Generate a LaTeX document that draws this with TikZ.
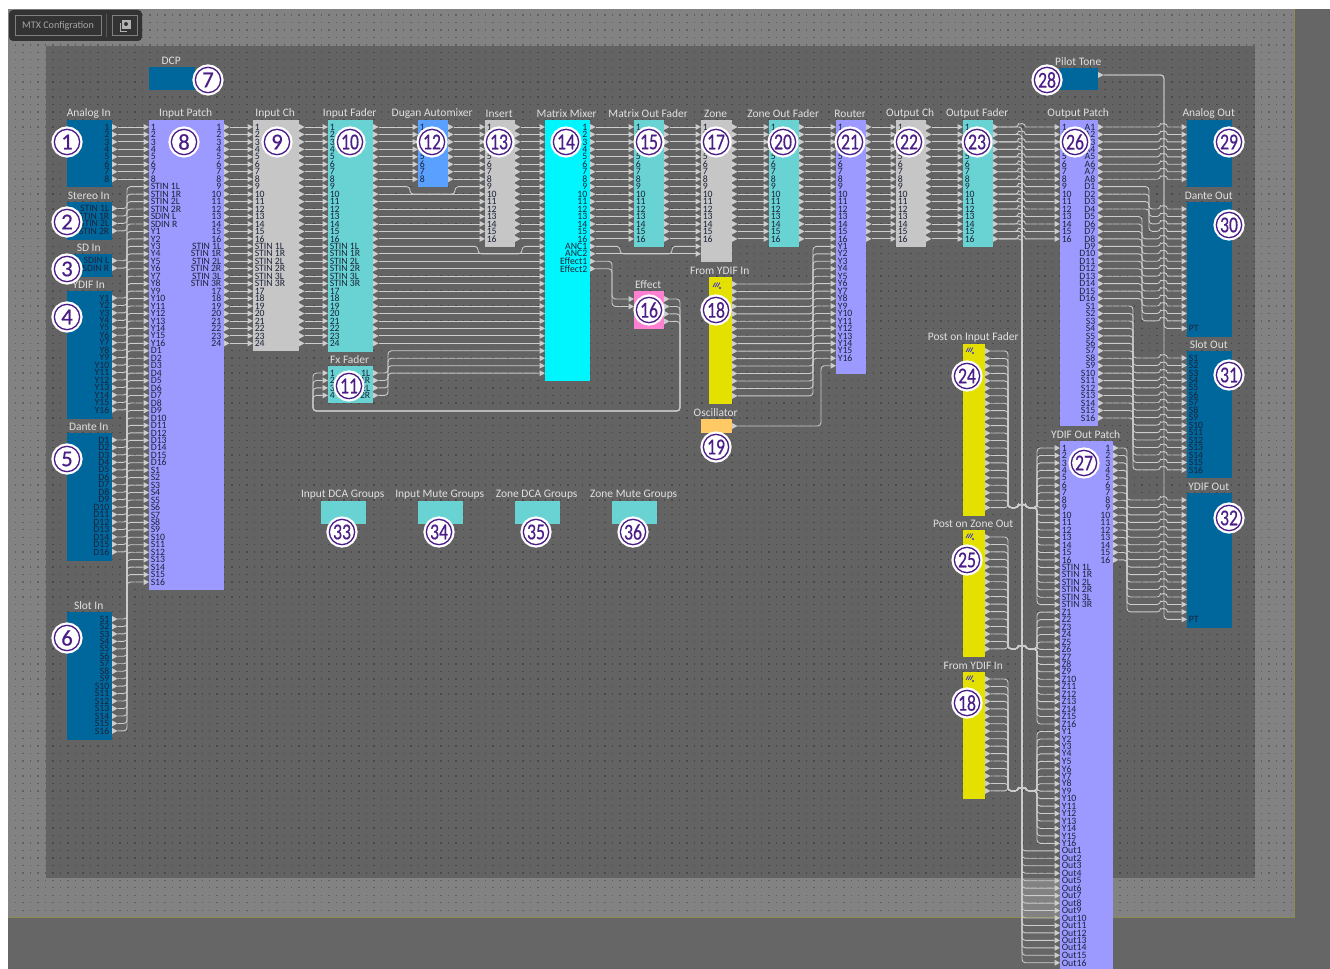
\documentclass[tikz,border=0pt]{standalone}
\usepackage{fontspec}
\setmainfont{Carlito}
\newfontfamily\badgefont[FakeBold=0.5]{Carlito}
\usetikzlibrary{calc}

\definecolor{bandgray}{HTML}{828282}
\definecolor{innergray}{HTML}{636363}
\definecolor{stripgray}{HTML}{666666}
\definecolor{iogreen}{HTML}{00679C}
\definecolor{patchpurple}{HTML}{9C9AFF}
\definecolor{fadergreen}{HTML}{69D3D3}
\definecolor{procgray}{HTML}{C6C6C6}
\definecolor{mixcyan}{HTML}{00F6FF}
\definecolor{duganblue}{HTML}{5AA0FF}
\definecolor{fxpink}{HTML}{FF80D2}
\definecolor{ylwblock}{HTML}{E4E000}
\definecolor{oscorange}{HTML}{FFC966}
\definecolor{ringpurple}{HTML}{4B1D87}
\definecolor{wiregray}{HTML}{CDCDCD}
\definecolor{rowink}{HTML}{1C2238}
\definecolor{iconblue}{HTML}{3A35D8}

\tikzset{
  wire/.style={draw=wiregray,line width=0.65pt,rounded corners=2.5pt},
  port/.style={fill=wiregray},
  griddot/.style={draw=black,opacity=0.26,line width=1pt,dash pattern=on 1.1pt off 4.495pt},
  blockbox/.style={inner sep=0pt,outer sep=0pt,anchor=north west},
  title/.style={text=white!88!black,font=\fontsize{8.6}{9}\selectfont,inner sep=0pt},
  rowlab/.style={text=rowink,font=\fontsize{7.3}{8}\selectfont,inner sep=0pt},
  badge/.style={circle,fill=white,draw=ringpurple,line width=1pt,minimum size=19pt,inner sep=0pt,
    text=ringpurple,font=\badgefont\fontsize{17}{17}\selectfont,preaction={draw=white,line width=4.4pt}},
}

% block: name, x1, y1, x2, y2, colour, title
\newcommand{\block}[7]{%
  \pgfmathsetmacro\bw{(#4-#2)*0.75}\pgfmathsetmacro\bh{(#5-#3)*0.75}%
  \node[blockbox,fill=#6,minimum width=\bw pt,minimum height=\bh pt] (#1) at (#2,#3) {};
  \node[title] (#1-t) at ({(#2+#4)/2-0.8},#3-6.2) {#7};
}
% ports: name, edge x, first y, count
\newcommand{\inports}[4]{%
  \foreach \i in {1,...,#4}{%
    \pgfmathsetmacro\yy{#3+7.46*(\i-1)}
    \coordinate (#1-in\i) at (#2-5.5,\yy);
    \fill[port] (#2-5.5,\yy-3) -- (#2,\yy) -- (#2-5.5,\yy+3) -- cycle;
  }
}
\newcommand{\outports}[4]{%
  \foreach \i in {1,...,#4}{%
    \pgfmathsetmacro\yy{#3+7.46*(\i-1)}
    \coordinate (#1-out\i) at (#2+5.5,\yy);
    \fill[port] (#2,\yy-3) -- (#2+5.5,\yy) -- (#2,\yy+3) -- cycle;
  }
}
% row texts: name, x, first y, list
\newcommand{\leftlabels}[4]{%
  \edef\rowlist{#4}
  \foreach \lab [count=\i] in \rowlist {%
    \pgfmathsetmacro\yy{#3+7.46*(\i-1)}
    \node[rowlab,anchor=west] (#1-ll\i) at (#2+1.5,\yy) {\lab};
  }
}
\newcommand{\rightlabels}[4]{%
  \edef\rowlist{#4}
  \foreach \lab [count=\i] in \rowlist {%
    \pgfmathsetmacro\yy{#3+7.46*(\i-1)}
    \node[rowlab,anchor=east] (#1-rl\i) at (#2-2.5,\yy) {\lab};
  }
}
% wires: via one vertical bus; with a hop over another bus
\newcommand{\buswire}[3]{\draw[wire] (#1) -- (#1 -| #3) -- (#2 -| #3) -- (#2);}
\newcommand{\hopwire}[3]{\draw[wire] (#1) -- ($(#1 -| #3)+(-3.5,0)$) [sharp corners] arc[start angle=180,end angle=0,radius=2.6pt] -- (#2);}
\newcommand{\bushop}[4]{\draw[wire] (#1) -- (#1 -| #3) -- (#2 -| #3) -- ($(#2 -| #4)+(-3.5,0)$) [sharp corners] arc[start angle=180,end angle=0,radius=2.6pt] -- (#2);}
\newcommand{\jogwire}[5]{\draw[wire] (#1) -- (#1 -| #4) -- (#3 -| #4) -- (#3 -| #5) -- (#2 -| #5) -- (#2);}
% merged bundle into the YDIF Out Patch
\newcommand{\mergewire}[3]{\draw[wire] (#1) -- (#1 -| busF) -- (#3 -| busF) -- ($(#3 -| busH)+(-3.5,0)$) arc[start angle=180,end angle=0,radius=2.6pt] -- (#3 -| busG) -- (#2 -| busG) -- (#2);}
\newcommand{\badgeno}[3]{\node[badge] (no#1) at (#2) {#3};}
\newcommand{\tight}[1]{\scalebox{0.78}[1]{#1}}
\newcommand{\ydificon}[2]{%
  \foreach \d in {0,2.2,4.4}{
    \draw[line width=0.6pt,draw=iconblue] (#1+\d,#2+1) -- (#1+2.4+\d,#2-3.4);
  }
  \fill[iconblue] (#1+7,#2+2) circle (0.9pt);
}

\def\numA{1,2,3,4,5,6,7,8}
\def\numB{\numA,9,10,11,12,13,14,15,16}
\def\numC{\numB,STIN 1L,STIN 1R,STIN 2L,STIN 2R,STIN 3L,STIN 3R,17,18,19,20,21,22,23,24}
\def\listY{Y1,Y2,Y3,Y4,Y5,Y6,Y7,Y8,Y9,Y10,Y11,Y12,Y13,Y14,Y15,Y16}
\def\listD{D1,D2,D3,D4,D5,D6,D7,D8,D9,D10,D11,D12,D13,D14,D15,D16}
\def\listS{S1,S2,S3,S4,S5,S6,S7,S8,S9,S10,S11,S12,S13,S14,S15,S16}
\def\listZ{Z1,Z2,Z3,Z4,Z5,Z6,Z7,Z8,Z9,Z10,Z11,Z12,Z13,Z14,Z15,Z16}
\def\listO{Out1,Out2,Out3,Out4,Out5,Out6,Out7,Out8,Out9,Out10,Out11,Out12,Out13,Out14,Out15,Out16}
\def\listST{STIN 1L,STIN 1R,STIN 2L,STIN 2R}

\begin{document}
\begin{tikzpicture}[x=0.75pt,y=-0.75pt]
\useasboundingbox (0,0) rectangle (1330,969);

%------------------------------------------------
% Background
%------------------------------------------------
\fill[white] (0,0) rectangle (1330,969);
\fill[stripgray] (8,9) rectangle (1330,969);
\fill[bandgray] (8,9) rectangle (1294,917);
\fill[innergray] (46,46) rectangle (1255,878);
\draw[draw=olive!45!gray,line width=0.75pt] (8,917) -- (1294,917) -- (1294,9);
\foreach \k in {0,...,120}
  \draw[griddot] (15,{15+7.46*\k}) -- (1292,{15+7.46*\k});

% Toolbar
\fill[black!80,rounded corners=3pt] (9,10) rectangle (142,41);
\node[draw=gray,line width=0.6pt,text=gray!70!white,font=\fontsize{7.6}{8}\selectfont,
  inner sep=0pt,minimum width=64.5pt,minimum height=15.5pt] (mtxbtn) at (58,25.5) {MTX Configration};
\draw[gray!70!black,line width=0.5pt] (106,14) -- (106,37);
\node[draw=gray,line width=0.6pt,inner sep=0pt,minimum width=18.8pt,minimum height=15.5pt] (iconbtn) at (124.5,25.5) {};
\draw[gray!60!white,line width=0.7pt] (120,23) -- (120,31) -- (127,31);
\draw[gray!60!white,line width=0.7pt,fill=gray!60!white] (122,20) rectangle (130,28);
\fill[black!80] (126,24) circle (1.5pt);

%------------------------------------------------
% Blocks
%------------------------------------------------
\block{anin}{67}{120}{112}{187}{iogreen}{Analog In}
\block{stin}{67}{202}{112}{240}{iogreen}{Stereo In}
\block{sdin}{67}{254}{112}{277}{iogreen}{SD In}
\block{ydin}{67}{291}{112}{419}{iogreen}{YDIF In}
\block{dain}{67}{433}{112}{561}{iogreen}{Dante In}
\block{slin}{67}{612}{112}{740}{iogreen}{Slot In}
\block{dcp}{149}{67}{195}{90}{iogreen}{DCP}
\block{ipatch}{149}{120}{224}{590}{patchpurple}{Input Patch}
\block{inch}{253}{120}{299}{351}{procgray}{Input Ch}
\block{infad}{328}{120}{373}{352}{fadergreen}{Input Fader}
\block{fxfad}{328}{366}{373}{403}{fadergreen}{Fx Fader}
\block{dugan}{418}{120}{448}{187}{duganblue}{Dugan Automixer}
\block{insert}{485}{120}{515}{247}{procgray}{Insert}
\block{mixer}{545}{120}{590}{381}{mixcyan}{Matrix Mixer}
\block{mofad}{634}{120}{664}{247}{fadergreen}{Matrix Out Fader}
\block{effect}{634}{291}{664}{329}{fxpink}{Effect}
\block{zone}{701}{120}{732}{262}{procgray}{Zone}
\block{yfrom}{709}{277}{732}{404}{ylwblock}{From YDIF In}
\block{osc}{701}{419}{732}{433}{oscorange}{Oscillator}
\block{zofad}{769}{120}{799}{247}{fadergreen}{Zone Out Fader}
\block{router}{836}{120}{866}{374}{patchpurple}{Router}
\block{outch}{896}{120}{926}{247}{procgray}{Output Ch}
\block{oufad}{963}{120}{993}{247}{fadergreen}{Output Fader}
\block{pfad}{963}{344}{985}{516}{ylwblock}{Post on Input Fader}
\block{pzone}{963}{530}{985}{657}{ylwblock}{Post on Zone Out}
\block{yfromb}{963}{672}{985}{799}{ylwblock}{From YDIF In}
\block{ptone}{1060}{68}{1098}{90}{iogreen}{Pilot Tone}
\block{opatch}{1060}{120}{1098}{426}{patchpurple}{Output Patch}
\block{ypatch}{1060}{441}{1113}{969}{patchpurple}{YDIF Out Patch}
\block{anout}{1187}{120}{1232}{187}{iogreen}{Analog Out}
\block{daout}{1187}{202}{1232}{337}{iogreen}{Dante Out}
\block{slout}{1187}{351}{1232}{478}{iogreen}{Slot Out}
\block{ydout}{1187}{493}{1232}{628}{iogreen}{YDIF Out}
\block{dcagrp}{321}{501}{366}{524}{fadergreen}{Input DCA Groups}
\block{mutegrp}{418}{501}{463}{524}{fadergreen}{Input Mute Groups}
\block{zdcagrp}{515}{501}{560}{524}{fadergreen}{Zone DCA Groups}
\block{zmutegrp}{612}{501}{657}{524}{fadergreen}{Zone Mute Groups}

\ydificon{713}{286}
\ydificon{966}{351}
\ydificon{966}{537}
\ydificon{966}{679}

%------------------------------------------------
% Ports
%------------------------------------------------
\outports{anin}{112}{127}{8}
\outports{stin}{112}{208.5}{4}
\outports{sdin}{112}{260.7}{2}
\outports{ydin}{112}{298}{16}
\outports{dain}{112}{440}{16}
\outports{slin}{112}{619}{16}
\inports{ipatch}{149}{127}{62}
\outports{ipatch}{224}{127}{30}
\inports{inch}{253}{127}{30}
\outports{inch}{299}{127}{30}
\inports{infad}{328}{127}{30}
\outports{infad}{373}{127}{30}
\inports{fxfad}{328}{373}{4}
\outports{fxfad}{373}{373}{4}
\inports{dugan}{418}{127}{8}
\outports{dugan}{448}{127}{8}
\inports{insert}{485}{127}{16}
\outports{insert}{515}{127}{16}
\inports{mixer}{545}{127}{34}
\outports{mixer}{590}{127}{20}
\inports{mofad}{634}{127}{16}
\outports{mofad}{664}{127}{16}
\inports{effect}{634}{299}{2}
\outports{effect}{664}{299}{4}
\inports{zone}{701}{127}{18}
\outports{zone}{732}{127}{16}
\outports{yfrom}{732}{284}{16}
\outports{osc}{732}{426}{1}
\inports{zofad}{769}{127}{16}
\outports{zofad}{799}{127}{16}
\inports{router}{836}{127}{33}
\outports{router}{866}{127}{16}
\inports{outch}{896}{127}{16}
\outports{outch}{926}{127}{16}
\inports{oufad}{963}{127}{16}
\outports{oufad}{993}{127}{16}
\outports{pfad}{985}{351}{22}
\outports{pzone}{985}{537}{16}
\outports{yfromb}{985}{679}{16}
\outports{ptone}{1098}{75}{1}
\inports{opatch}{1060}{127}{16}
\outports{opatch}{1098}{127}{40}
\inports{ypatch}{1060}{448}{70}
\outports{ypatch}{1113}{448}{16}
\inports{anout}{1187}{127}{8}
\inports{daout}{1187}{209}{17}
\inports{slout}{1187}{358}{16}
\inports{ydout}{1187}{500}{17}

%------------------------------------------------
% Row texts
%------------------------------------------------
\rightlabels{anin}{112}{127}{\numA}
\rightlabels{stin}{112}{208.5}{\listST}
\rightlabels{sdin}{112}{260.7}{SDIN L,SDIN R}
\rightlabels{ydin}{112}{298}{\listY}
\rightlabels{dain}{112}{440}{\listD}
\rightlabels{slin}{112}{619}{\listS}
\leftlabels{ipatch}{149}{127}{\numA,\listST,SDIN L,SDIN R,\listY,\listD,\listS}
\rightlabels{ipatch}{224}{127}{\numC}
\leftlabels{inch}{253}{127}{\numC}
\leftlabels{infad}{328}{127}{\numC}
\leftlabels{fxfad}{328}{373}{1,2,3,4}
\rightlabels{fxfad}{373}{373}{1L,1R,2L,2R}
\leftlabels{dugan}{418}{127}{\numA}
\leftlabels{insert}{485}{127}{\numB}
\rightlabels{mixer}{590}{127}{\numB,ANC1,ANC2,Effect1,Effect2}
\leftlabels{mofad}{634}{127}{\numB}
\leftlabels{zone}{701}{127}{\numB}
\leftlabels{zofad}{769}{127}{\numB}
\leftlabels{router}{836}{127}{\numB,\listY}
\leftlabels{outch}{896}{127}{\numB}
\leftlabels{oufad}{963}{127}{\numB}
\leftlabels{opatch}{1060}{127}{\numB}
\rightlabels{opatch}{1098}{127}{A1,A2,A3,A4,A5,A6,A7,A8,\listD,\listS}
\leftlabels{ypatch}{1060}{448}{\numB,STIN 1L,STIN 1R,STIN 2L,STIN 2R,STIN 3L,STIN 3R,\listZ,\listY,\listO}
\rightlabels{ypatch}{1113}{448}{\numB}
\leftlabels{slout}{1187}{358}{\listS}
\node[rowlab,anchor=west] (daout-pt) at (1188.5,328.4) {PT};
\node[rowlab,anchor=west] (ydout-pt) at (1188.5,619.4) {PT};

%------------------------------------------------
% Bus positions
%------------------------------------------------
\coordinate (busIn) at (127,0);
\coordinate (jogAl) at (410,0);
\coordinate (jogAr) at (455,0);
\coordinate (jogBl) at (478,0);
\coordinate (jogBr) at (522,0);
\coordinate (jogCl) at (620,0);
\coordinate (jogCr) at (672,0);
\coordinate (busFx) at (388,0);
\coordinate (busEff) at (612,0);
\coordinate (fxR) at (680,411);
\coordinate (fxL) at (313,411);
\coordinate (busYf) at (813,0);
\coordinate (busOsc) at (821,0);
\coordinate (busF) at (1008,0);
\coordinate (busH) at (1022,0);
\coordinate (busG) at (1037,0);
\coordinate (busY) at (1127,0);
\coordinate (busS) at (1133,0);
\coordinate (busDb) at (1142,0);
\coordinate (busDa) at (1149,0);
\coordinate (busP) at (1164,0);

%------------------------------------------------
% Input side
%------------------------------------------------
\foreach \i in {1,...,8}{
  \draw[wire] (anin-out\i) -- (ipatch-in\i);
}
\foreach \i [evaluate=\i as \j using int(\i+8)] in {1,...,4}{
  \buswire{stin-out\i}{ipatch-in\j}{busIn}
}
\foreach \i [evaluate=\i as \j using int(\i+12)] in {1,2}{
  \buswire{sdin-out\i}{ipatch-in\j}{busIn}
}
\foreach \i [evaluate=\i as \j using int(\i+14),
             evaluate=\i as \k using int(\i+30),
             evaluate=\i as \m using int(\i+46)] in {1,...,16}{
  \buswire{ydin-out\i}{ipatch-in\j}{busIn}
  \buswire{dain-out\i}{ipatch-in\k}{busIn}
  \buswire{slin-out\i}{ipatch-in\m}{busIn}
}
\foreach \i in {1,...,30}{
  \draw[wire] (ipatch-out\i) -- (inch-in\i);
  \draw[wire] (inch-out\i) -- (infad-in\i);
}
\foreach \i in {1,...,8}{
  \draw[wire] (infad-out\i) -- (dugan-in\i);
  \draw[wire] (dugan-out\i) -- (insert-in\i);
}
\jogwire{infad-out9}{insert-in9}{infad-out10}{jogAl}{jogAr}
\foreach \i in {10,...,16}{
  \draw[wire] (infad-out\i) -- (insert-in\i);
}
\foreach \i in {1,...,16}{
  \draw[wire] (insert-out\i) -- (mixer-in\i);
}
\jogwire{infad-out17}{mixer-in17}{infad-out18}{jogBl}{jogBr}
\foreach \i in {18,...,30}{
  \draw[wire] (infad-out\i) -- (mixer-in\i);
}

% Fx return
\foreach \i [evaluate=\i as \j using int(\i+30)] in {1,...,4}{
  \buswire{fxfad-out\i}{mixer-in\j}{busFx}
}
\foreach \i in {1,...,4}{
  \draw[wire] (effect-out\i) -- (effect-out\i -| fxR) -- (fxR) -- (fxL) -- (fxfad-in\i -| fxL) -- (fxfad-in\i);
}
\foreach \i [evaluate=\i as \j using int(\i+18)] in {1,2}{
  \buswire{mixer-out\j}{effect-in\i}{busEff}
}

%------------------------------------------------
% Mixer to output patch
%------------------------------------------------
\foreach \i in {1,...,16}{
  \draw[wire] (mixer-out\i) -- (mofad-in\i);
  \draw[wire] (mofad-out\i) -- (zone-in\i);
  \draw[wire] (zone-out\i) -- (zofad-in\i);
  \draw[wire] (zofad-out\i) -- (router-in\i);
  \draw[wire] (router-out\i) -- (outch-in\i);
  \draw[wire] (outch-out\i) -- (oufad-in\i);
}
\jogwire{mixer-out17}{zone-in17}{mixer-out18}{jogCl}{jogCr}
\draw[wire] (mixer-out18) -- (zone-in18);
\foreach \i [evaluate=\i as \j using int(\i+16)] in {1,...,16}{
  \buswire{yfrom-out\i}{router-in\j}{busYf}
}
\buswire{osc-out1}{router-in33}{busOsc}

%------------------------------------------------
% YDIF Out Patch inputs
%------------------------------------------------
\foreach \i [evaluate=\i as \j using int(\i+54)] in {1,...,16}{
  \buswire{oufad-out\i}{ypatch-in\j}{busH}
}
\foreach \i in {1,...,16}{
  \hopwire{oufad-out\i}{opatch-in\i}{busH}
}
\foreach \i in {1,...,22}{
  \mergewire{pfad-out\i}{ypatch-in\i}{pfad-out22}
}
\foreach \i [evaluate=\i as \j using int(\i+22),
             evaluate=\i as \k using int(\i+38)] in {1,...,16}{
  \mergewire{pzone-out\i}{ypatch-in\j}{pzone-out16}
  \mergewire{yfromb-out\i}{ypatch-in\k}{yfromb-out16}
}

%------------------------------------------------
% Outputs
%------------------------------------------------
\buswire{ptone-out1}{daout-in17}{busP}
\buswire{ptone-out1}{ydout-in17}{busP}
\foreach \i in {1,...,8}{
  \hopwire{opatch-out\i}{anout-in\i}{busP}
}
\foreach \i [evaluate=\i as \j using int(\i+8)] in {1,...,4}{
  \bushop{opatch-out\j}{daout-in\i}{busDa}{busP}
}
\foreach \i [evaluate=\i as \j using int(\i+8)] in {5,...,16}{
  \bushop{opatch-out\j}{daout-in\i}{busDb}{busP}
}
\foreach \i [evaluate=\i as \j using int(\i+24)] in {1,...,16}{
  \bushop{opatch-out\j}{slout-in\i}{busS}{busP}
}
\foreach \i in {1,...,16}{
  \bushop{ypatch-out\i}{ydout-in\i}{busY}{busP}
}

%------------------------------------------------
% Numbered marks
%------------------------------------------------
\badgeno{1}{67,142}{1}
\badgeno{2}{67,222}{2}
\badgeno{3}{67,269}{3}
\badgeno{4}{67,317}{4}
\badgeno{5}{67,459}{5}
\badgeno{6}{67,638}{6}
\badgeno{7}{208,80}{7}
\badgeno{8}{184,142}{8}
\badgeno{9}{277,142}{9}
\badgeno{10}{350,142}{\tight{10}}
\badgeno{11}{349,386}{\tight{11}}
\badgeno{12}{432,142}{\tight{12}}
\badgeno{13}{499,142}{\tight{13}}
\badgeno{14}{566,142}{\tight{14}}
\badgeno{15}{649,142}{\tight{15}}
\badgeno{16}{649,310}{\tight{16}}
\badgeno{17}{716,142}{\tight{17}}
\badgeno{18}{716,310}{\tight{18}}
\badgeno{19}{716,447}{\tight{19}}
\badgeno{20}{783,142}{\tight{20}}
\badgeno{21}{850,142}{\tight{21}}
\badgeno{22}{909,142}{\tight{22}}
\badgeno{23}{977,142}{\tight{23}}
\badgeno{24}{967,376}{\tight{24}}
\badgeno{25}{967,560}{\tight{25}}
\badgeno{18b}{967,703}{\tight{18}}
\badgeno{26}{1075,142}{\tight{26}}
\badgeno{27}{1084,463}{\tight{27}}
\badgeno{28}{1047,80}{\tight{28}}
\badgeno{29}{1229,142}{\tight{29}}
\badgeno{30}{1229,225}{\tight{30}}
\badgeno{31}{1229,375}{\tight{31}}
\badgeno{32}{1229,518}{\tight{32}}
\badgeno{33}{342,532}{\tight{33}}
\badgeno{34}{439,532}{\tight{34}}
\badgeno{35}{536,532}{\tight{35}}
\badgeno{36}{633,532}{\tight{36}}

\end{tikzpicture}
\end{document}
